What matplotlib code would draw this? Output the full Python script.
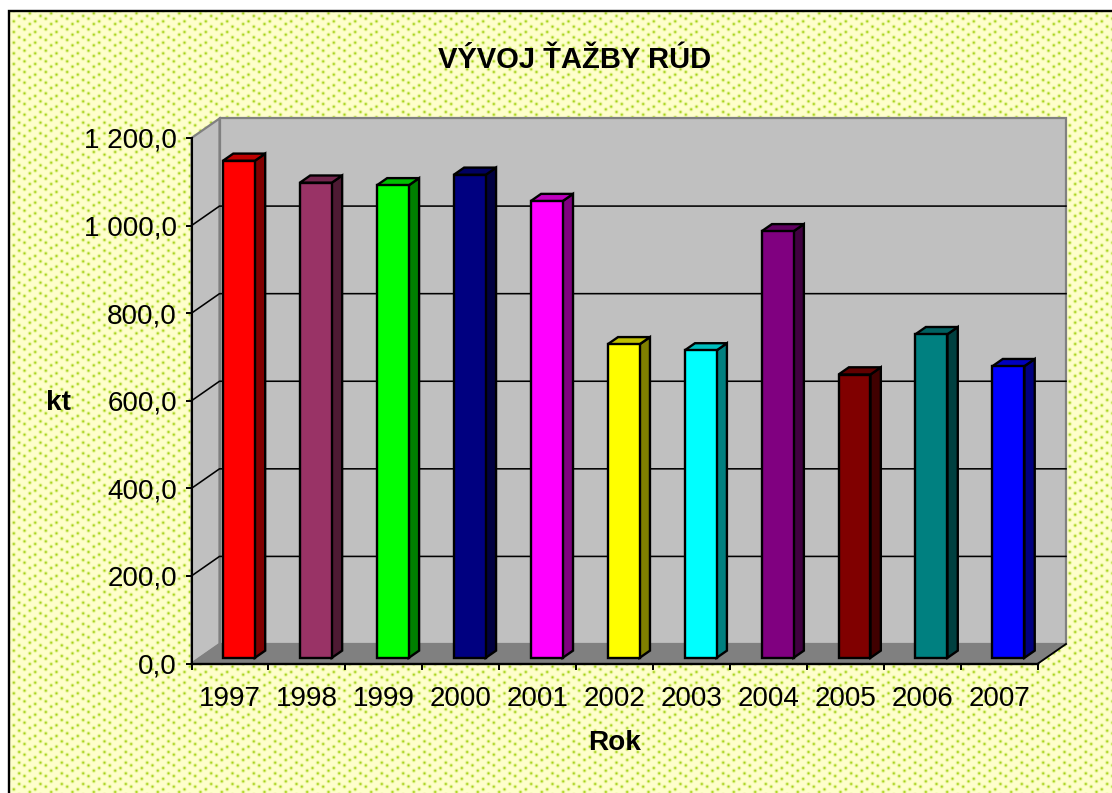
import numpy as np
import matplotlib
matplotlib.use("Agg")
import matplotlib.pyplot as plt
from matplotlib.patches import Polygon

years = ["1997", "1998", "1999", "2000", "2001", "2002", "2003", "2004", "2005", "2006", "2007"]
values = [1135, 1085, 1079, 1103, 1043, 716, 702, 974, 647, 739, 666]
front_colors = ["#FF0000", "#993366", "#00FF00", "#000080", "#FF00FF", "#FFFF00",
                "#00FFFF", "#800080", "#800000", "#008080", "#0000FF"]
y_ticks = [0, 200, 400, 600, 800, 1000, 1200]
y_labels = ["0,0", "200,0", "400,0", "600,0", "800,0", "1 000,0", "1 200,0"]
title = "VÝVOJ ŤAŽBY RÚD"
x_title = "Rok"
y_title = "kt"

W, H = 1112, 793
plt.rcParams["font.family"] = ["Liberation Sans", "DejaVu Sans"]
fig = plt.figure(figsize=(W / 100, H / 100), dpi=100, facecolor="white")

# patterned chart-area background
S = 8 / 3
tile_dots = [(7, 6), (7, 2), (3, 5), (3, 1), (5, 0), (5, 4), (1, 7), (1, 3)]
yy, xx = np.mgrid[0:H, 0:W]
d = np.zeros((H, W))
for tx, ty in tile_dots:
    dx = (xx / S - tx + 4) % 8 - 4
    dy = ((yy + 0.5) / S - ty + 4) % 8 - 4
    d += np.exp(-(dx ** 2 + dy ** 2) * S ** 2 / (2 * 1.0 ** 2))
d = np.clip(d * 0.9, 0, 1)[..., None]
bg = np.array([1, 1, 0.80]) * (1 - d) + np.array([0.6, 0.8, 0.0]) * d
img = np.ones((H, W, 3))
img[11:, 9:] = bg[11:, 9:]
ax_bg = fig.add_axes([0, 0, 1, 1], zorder=-5)
ax_bg.imshow(img, aspect="auto", interpolation="nearest")
ax_bg.axis("off")
fig.add_artist(plt.Line2D([9 / W, 9 / W, 1], [0, 1 - 11 / H, 1 - 11 / H], color="black", lw=1.7,
                          solid_joinstyle="miter", zorder=-1))

# axes plane = front plane of the 3D box
L, R, T, B = 191.5, 1038.0, 138.0, 663.5
ax = fig.add_axes([L / W, 1 - B / H, (R - L) / W, (B - T) / H], zorder=1)
ax.patch.set_alpha(0)
ax.set_xlim(0, len(years))
ax.set_ylim(0, 1200)
for s in ax.spines.values():
    s.set_visible(False)

DX = 28 / ((R - L) / len(years))
DY = 19.5 / ((B - T) / 1200)


def proj(x, y, z):
    return (x + z * DX, y + z * DY)


def poly(pts, fc, ec, lw, zo):
    ax.add_patch(Polygon([proj(*p) for p in pts], closed=True, fc=fc, ec=ec, lw=lw, zorder=zo,
                         clip_on=False, joinstyle="miter"))


n = len(years)
GR = "#808080"
poly([(0, 0, 1), (n, 0, 1), (n, 1200, 1), (0, 1200, 1)], "#C0C0C0", GR, 1.6, 1)
poly([(0, 0, 0), (0, 0, 1), (0, 1200, 1), (0, 1200, 0)], "#C0C0C0", GR, 1.6, 1)
poly([(0, 0, 0), (n, 0, 0), (n, 0, 1), (0, 0, 1)], GR, GR, 1.0, 1.5)

for v in y_ticks[1:-1]:
    xs, ys = zip(proj(0, v, 0), proj(0, v, 1), proj(n, v, 1))
    ax.plot(xs, ys, color="black", lw=1.15, zorder=2, clip_on=False)
xs, ys = zip(proj(n, 0, 0), proj(n, 0, 1))
ax.plot(xs, ys, color="black", lw=1.3, zorder=2, clip_on=False)

Z0, Z1 = 0.29, 0.66
BW = 0.415
SHIFT = 0.01
for i, (v, c) in enumerate(zip(values, front_colors)):
    x0, x1 = i + 0.5 + SHIFT - BW / 2, i + 0.5 + SHIFT + BW / 2
    rgb = np.array(matplotlib.colors.to_rgb(c))
    zo = 3 + i * 0.01
    poly([(x1, 0, Z0), (x1, 0, Z1), (x1, v, Z1), (x1, v, Z0)], rgb * 0.5, "black", 1.7, zo)
    poly([(x0, v, Z0), (x1, v, Z0), (x1, v, Z1), (x0, v, Z1)], rgb * 0.75, "black", 1.7, zo)
    poly([(x0, 0, Z0), (x1, 0, Z0), (x1, v, Z0), (x0, v, Z0)], rgb, "black", 1.7, zo)

# axis lines on top
ax.plot([0, 0], [0, 1200], color="black", lw=1.5, zorder=6, clip_on=False)
ax.plot([0, n], [0, 0], color="black", lw=1.7, zorder=6, clip_on=False)

FS = 20
ax.set_yticks(y_ticks)
ax.set_yticklabels(y_labels, fontsize=FS)
ax.set_xticks(np.arange(n + 1))
ax.set_xticklabels([])
ax.set_xticks(np.arange(n) + 0.5, minor=True)
ax.set_xticklabels(years, minor=True, fontsize=FS)
ax.tick_params(axis="both", which="major", length=4.5, width=1.4, color="black")
ax.tick_params(axis="y", pad=6)
ax.tick_params(axis="x", which="minor", length=0, pad=16)


def ax_xy(px, py):
    return (px - L) / (R - L), (B - py) / (B - T)


tx, ty = ax_xy(575, 60)
ax.text(tx, ty, title, transform=ax.transAxes, ha="center", va="center", fontsize=21, fontweight="bold", clip_on=False)
ax.set_xlabel(x_title, fontsize=20.2, fontweight="bold")
ax.xaxis.set_label_coords(*ax_xy(615, 743))
ax.xaxis.label.set_va("center")
ax.set_ylabel(y_title, fontsize=20.2, fontweight="bold", rotation=0, ha="center", va="center")
ax.yaxis.set_label_coords(*ax_xy(58, 403))

fig.savefig("out.png", dpi=100)
